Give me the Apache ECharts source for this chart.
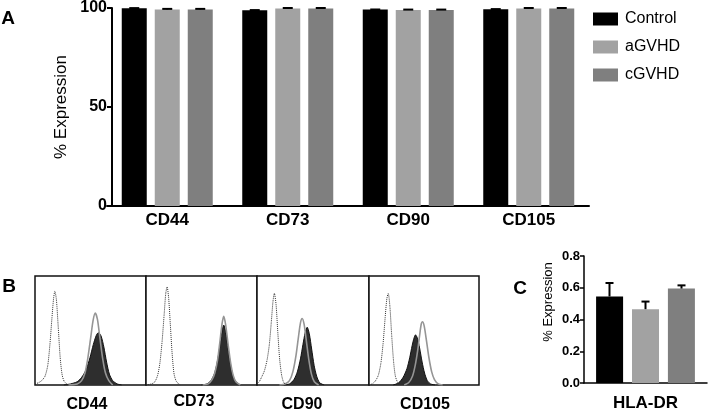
<!DOCTYPE html>
<html><head><meta charset="utf-8">
<script src="https://cdn.jsdelivr.net/npm/echarts@6/dist/echarts.min.js"></script>
<style>html,body{margin:0;padding:0;background:#fff}#c{width:709px;height:412px}</style>
</head><body><div id="c"></div>
<script>
// ---------- Panel A data ----------
const markers = ['CD44', 'CD73', 'CD90', 'CD105'];
const groups = ['Control', 'aGVHD', 'cGVHD'];
const controlMean = [99.9, 98.9, 99.2, 99.4];
const controlErr  = [0.05, 0.05, 0.05, 0.05];
const aGVHDMean   = [99.3, 99.8, 99.0, 99.8];
const aGVHDErr    = [0.25, 0.2, 0.2, 0.2];
const cGVHDMean   = [99.3, 99.8, 99.0, 99.8];
const cGVHDErr    = [0.25, 0.2, 0.2, 0.2];
const yTicksA = [0, 50, 100];

// ---------- Panel C data ----------
const hlaCategory = ['HLA-DR'];
const hlaControl = [0.545]; const hlaControlErr = [0.085];
const hlaAGVHD   = [0.465]; const hlaAGVHDErr   = [0.048];
const hlaCGVHD   = [0.595]; const hlaCGVHDErr   = [0.02];

// ---------- Panel B histograms (x: % of panel width, y: % of panel height) ----------
const histLabels = ['CD44', 'CD73', 'CD90', 'CD105'];
const isoCD44  = [[0,1],[3,2],[6,4],[9,8],[11.5,18],[13.5,38],[15.3,62],[16.8,80],[17.9,86],[19.3,78],[21,52],[22.7,25],[24.5,9],[26.5,3],[30,0]];
const outCD44  = [[30,0],[38,1],[42,4],[45,11],[47.5,24],[50,42],[52.3,59],[54.3,66],[56.3,60],[58.5,43],[61,24],[63.5,11],[66.5,4],[70,0]];
const fillCD44 = [[26,0],[32,1],[38,3],[42,7],[46,14],[49.5,25],[52.5,37],[55,45],[57,48],[59.5,45],[62,35],[64.5,21],[67,10],[70,4],[74,1],[78,0]];
const isoCD73  = [[0,0],[5,1],[8,3],[10.5,9],[12.5,20],[14.5,40],[16.3,64],[17.8,84],[19,90],[20.4,80],[22,54],[23.6,28],[25.3,10],[27.5,3],[31,0]];
const outCD73  = [[51,0],[56,1],[59.5,5],[62,11],[64.5,23],[66.5,39],[68.5,56],[70,63],[71.8,55],[74,37],[76.3,20],[78.5,9],[81,3],[85,0]];
const fillCD73 = [[50,0],[55,1],[58.5,4],[61.5,10],[64,20],[66.3,34],[68.3,48],[70,55],[72,48],[74,33],[76.3,18],[78.5,8],[81,3],[85,0]];
const isoCD90  = [[0,1],[2,3],[4,7],[6.6,13],[9,23],[11,37],[12.8,58],[14.3,77],[15.5,84],[17,74],[18.6,48],[20.2,24],[22,9],[24,2],[27,0]];
const outCD90  = [[20,0],[25,1],[29,4],[32,12],[34.8,27],[37,44],[38.8,57],[40.3,61],[42,56],[44,41],[46.3,23],[48.6,10],[51.2,3],[55,0]];
const fillCD90 = [[24,0],[29,1],[33,5],[36,12],[38.8,24],[41,37],[43,48],[44.8,53],[46.7,47],[48.8,33],[51,18],[53.3,8],[56,2],[60,0]];
const isoCD105  = [[0,0],[3,1],[6,4],[8.5,9],[10.8,20],[12.8,38],[14.7,62],[16.2,79],[17.5,84],[19,72],[20.6,46],[22.3,22],[24,8],[26.3,2],[29,0]];
const outCD105  = [[32,0],[36,2],[39.5,8],[42,18],[44.3,32],[46.2,47],[47.5,56],[48.6,58],[50.2,54],[52.2,41],[54.5,25],[57,12],[59.5,5],[63,1],[67,0]];
const fillCD105 = [[22,0],[27,2],[31,7],[34.5,15],[37,25],[39.2,36],[40.9,43],[42.3,46],[44,43],[46,34],[48.3,21],[50.5,11],[53,4],[56,1],[60,0]];

const histSets = [
  [isoCD44, outCD44, fillCD44],
  [isoCD73, outCD73, fillCD73],
  [isoCD90, outCD90, fillCD90],
  [isoCD105, outCD105, fillCD105]
];

const colors = ['#000000', '#a2a2a2', '#7f7f7f'];
const FONT = '"Liberation Sans", Arial, Helvetica, sans-serif';

function errSeries(xi, yi, means, errs, off, cap) {
  return {
    type: 'custom', xAxisIndex: xi, yAxisIndex: yi, z: 10, silent: true,
    encode: { x: 0, y: [1, 2] },
    data: means.map((m, i) => [i, m, m + errs[i]]),
    renderItem: (params, api) => {
      const b = api.coord([api.value(0), api.value(1)]);
      const t = api.coord([api.value(0), api.value(2)]);
      const x = b[0] + off;
      return { type: 'group', children: [
        { type: 'line', shape: { x1: x, y1: b[1], x2: x, y2: t[1] }, style: { stroke: '#000', lineWidth: 2 } },
        { type: 'line', shape: { x1: x - cap, y1: t[1], x2: x + cap, y2: t[1] }, style: { stroke: '#000', lineWidth: 2 } }
      ]};
    }
  };
}

const grids = [{ left: 107, top: 7, width: 482, height: 199 }];
const bPanels = [[35, 111], [146, 111], [257, 112], [369, 110]];
bPanels.forEach(p => grids.push({ left: p[0], top: 276, width: p[1], height: 109, show: true, borderColor: '#111', borderWidth: 1.5, backgroundColor: '#fff' }));
grids.push({ left: 584, top: 256, width: 123, height: 129 });

const xAxes = [{
  gridIndex: 0, type: 'category', data: markers,
  axisLine: { lineStyle: { color: '#000', width: 2 } },
  axisTick: { alignWithLabel: true, length: 5, lineStyle: { width: 2 } },
  axisLabel: { color: '#000', fontSize: 17, fontWeight: 'bold', fontFamily: FONT, margin: 6 }
}];
const yAxes = [{
  gridIndex: 0, type: 'value', min: 0, max: 100, interval: 50, offset: -5,
  splitLine: { show: false },
  axisLine: { show: true, lineStyle: { color: '#000', width: 2 } },
  axisTick: { show: true, length: 5, lineStyle: { width: 2 } },
  axisLabel: { color: '#000', fontSize: 16, fontWeight: 'bold', fontFamily: FONT, margin: 5,
    customValues: yTicksA },
  name: '% Expression', nameLocation: 'middle', nameGap: 38, nameRotate: 90,
  nameTextStyle: { color: '#000', fontSize: 17, fontFamily: FONT }
}];
for (let k = 1; k <= 4; k++) {
  xAxes.push({ gridIndex: k, type: 'value', min: 0, max: 100, show: false });
  yAxes.push({ gridIndex: k, type: 'value', min: 0, max: 100, show: false });
}
xAxes.push({
  gridIndex: 5, type: 'category', data: hlaCategory,
  axisLine: { lineStyle: { color: '#000', width: 1.5 } },
  axisTick: { alignWithLabel: true, length: 4, lineStyle: { width: 1.5 } },
  axisLabel: { color: '#000', fontSize: 17, fontWeight: 'bold', fontFamily: FONT, margin: 12 }
});
yAxes.push({
  gridIndex: 5, type: 'value', min: 0, max: 0.8, interval: 0.2,
  splitLine: { show: false },
  axisLine: { show: true, lineStyle: { color: '#000', width: 1.5 } },
  axisTick: { show: true, length: 4, lineStyle: { width: 1.5 } },
  axisLabel: { color: '#000', fontSize: 13, fontWeight: 'bold', fontFamily: FONT, margin: 4, formatter: v => v.toFixed(1) }
});

const series = [];
const aMeans = [controlMean, aGVHDMean, cGVHDMean];
const aErrs = [controlErr, aGVHDErr, cGVHDErr];
groups.forEach((g, i) => {
  series.push({ name: g, type: 'bar', xAxisIndex: 0, yAxisIndex: 0, data: aMeans[i],
    barWidth: 25, barGap: '32%', itemStyle: { color: colors[i] } });
});
const offA = [-33, 0, 33];
groups.forEach((g, i) => series.push(errSeries(0, 0, aMeans[i], aErrs[i], offA[i], 5)));

histSets.forEach((set, k) => {
  const gi = k + 1;
  series.push({ type: 'line', xAxisIndex: gi, yAxisIndex: gi, data: set[2], smooth: 0.25, symbol: 'none', silent: true,
    lineStyle: { color: '#111', width: 1 }, areaStyle: { color: '#2e2e2e', opacity: 1 }, z: 3 });
  series.push({ type: 'line', xAxisIndex: gi, yAxisIndex: gi, data: set[1], smooth: 0.25, symbol: 'none', silent: true,
    lineStyle: { color: '#959595', width: 1.6 }, z: 4 });
  series.push({ type: 'line', xAxisIndex: gi, yAxisIndex: gi, data: set[0], smooth: 0.25, symbol: 'none', silent: true,
    lineStyle: { color: '#333', width: 1, type: 'dotted' }, z: 4 });
});

const cMeans = [hlaControl, hlaAGVHD, hlaCGVHD];
const cErrs = [hlaControlErr, hlaAGVHDErr, hlaCGVHDErr];
groups.forEach((g, i) => {
  series.push({ name: g + ' ', type: 'bar', xAxisIndex: 5, yAxisIndex: 5, data: cMeans[i],
    barWidth: 27, barGap: '33%', itemStyle: { color: colors[i] } });
});
const offC = [-36, 0, 36];
groups.forEach((g, i) => series.push(errSeries(5, 5, cMeans[i], cErrs[i], offC[i], 4)));

const graphics = [
  { type: 'text', x: 8, y: 19, style: { text: 'A', font: 'bold 19px ' + FONT, fill: '#000', align: 'center', verticalAlign: 'middle' } },
  { type: 'text', x: 9, y: 287, style: { text: 'B', font: 'bold 19px ' + FONT, fill: '#000', align: 'center', verticalAlign: 'middle' } },
  { type: 'text', x: 520, y: 289, style: { text: 'C', font: 'bold 19px ' + FONT, fill: '#000', align: 'center', verticalAlign: 'middle' } },
  { type: 'text', x: 548, y: 302, rotation: Math.PI / 2, style: { text: '% Expression', font: '13px ' + FONT, fill: '#000', align: 'center', verticalAlign: 'middle' } }
];
const bLabelPos = [[87, 405], [194, 402], [302, 405], [425, 405]];
histLabels.forEach((t, k) => graphics.push({ type: 'text', x: bLabelPos[k][0], y: bLabelPos[k][1],
  style: { text: t, font: 'bold 16px ' + FONT, fill: '#000', align: 'center', verticalAlign: 'middle' } }));

const chart = echarts.init(document.getElementById('c'), null, { renderer: 'canvas' });
chart.setOption({
  animation: false,
  backgroundColor: '#fff',
  textStyle: { fontFamily: FONT },
  grid: grids, xAxis: xAxes, yAxis: yAxes,
  legend: { data: groups, orient: 'vertical', left: 588, top: 6, icon: 'rect', itemWidth: 25, itemHeight: 13,
    itemGap: 12, selectedMode: false, textStyle: { fontSize: 16, color: '#000', fontFamily: FONT, padding: [0, 0, 0, 2] } },
  graphic: graphics,
  series: series
});
</script></body></html>
